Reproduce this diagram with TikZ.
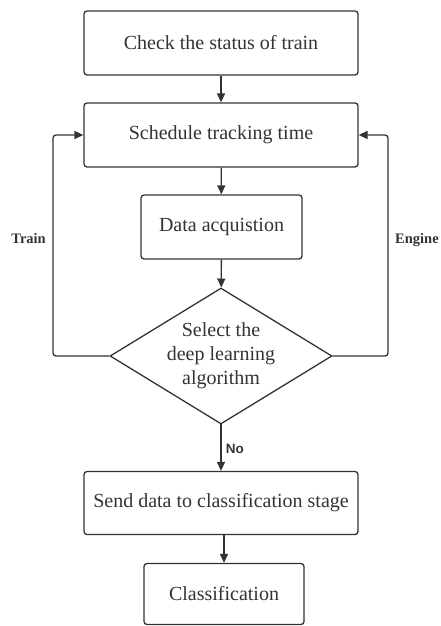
\documentclass[tikz,border=0pt]{standalone}
\usepackage{fontspec}
\setmainfont{Liberation Serif}
\newfontfamily\labsans{Liberation Sans}
\usetikzlibrary{shapes.geometric,arrows.meta}
\definecolor{ln}{HTML}{333333}
\begin{document}
\begin{tikzpicture}[x=1pt,y=-1pt,
  box/.style={draw=ln,line width=1.3pt,rounded corners=3pt,align=center,font=\fontsize{20}{24}\selectfont,text=ln,inner sep=0pt},
  dec/.style={draw=ln,line width=1.3pt,diamond,inner sep=0pt,minimum width=222pt,minimum height=136pt},
  dtext/.style={align=center,font=\fontsize{20}{24}\selectfont,text=ln,inner sep=0pt},
  conn/.style={draw=ln,line width=1.3pt,-{Triangle[width=8pt,length=9pt]},rounded corners=3pt},
  side/.style={font=\bfseries\fontsize{14.5}{16}\selectfont,text=ln,inner sep=0pt}]
\useasboundingbox (0,0) rectangle (440,626);
\node[box,minimum width=274pt,minimum height=64pt] (b1) at (221,43) {Check the status of train};
\node[box,minimum width=274pt,minimum height=64pt] (b2) at (221,135) {Schedule tracking time};
\node[box,minimum width=161pt,minimum height=64pt] (b3) at (221.5,227) {Data acquistion};
\node[dec] (d) at (221,356) {};
\node[dtext] (dt) at (d.center) {Select the\\deep learning\\algorithm};
\node[box,minimum width=274pt,minimum height=63pt] (b4) at (221,503) {Send data to classification stage};
\node[box,minimum width=160pt,minimum height=61pt] (b5) at (224,594) {Classification};
\coordinate (dl) at (53,356);
\coordinate (dr) at (388,356);
\draw[conn] (b1) -- (b2);
\draw[conn] (b2) -- (b3);
\draw[conn] (b3) -- (d);
\draw[conn] ([yshift=2pt]d.south) -- node[right,font=\labsans\bfseries\fontsize{13.5}{15}\selectfont,text=ln,xshift=1pt,yshift=-2pt]{No} (b4);
\draw[conn] (b4.south -| b5) -- (b5);
\draw[conn] (d.west) -- (dl) |- (b2.west);
\draw[conn] (d.east) -- (dr) |- (b2.east);
\node[side,anchor=east] (tr) at (46,239) {Train};
\node[side,anchor=west] (en) at (395,240) {Engine};
\end{tikzpicture}
\end{document}
